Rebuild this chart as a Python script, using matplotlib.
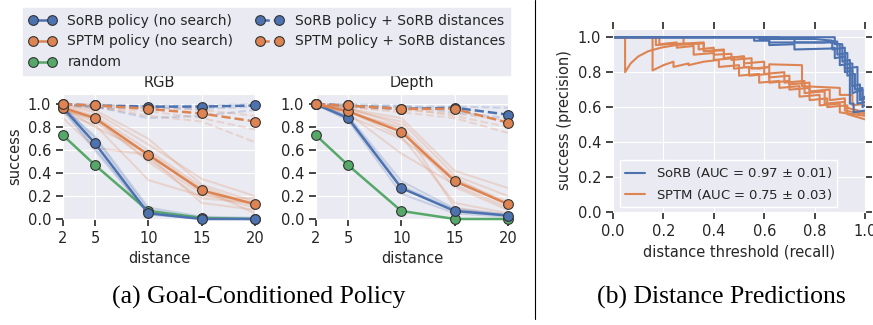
import matplotlib
matplotlib.use("Agg")
import matplotlib.pyplot as plt
import seaborn as sns
from matplotlib.lines import Line2D

sns.set_style("darkgrid")
plt.rcParams['font.family'] = ['DejaVu Sans']

blue = "#4C72B0"
orange = "#DD8452"
green = "#55A868"

distances = [2, 5, 10, 15, 20]

# --- RGB ---
rgb_sorb = [0.97, 0.66, 0.05, 0.00, 0.00]
rgb_sptm = [0.97, 0.88, 0.56, 0.25, 0.13]
rgb_random = [0.73, 0.47, 0.07, 0.01, 0.00]
rgb_sorb_search = [1.00, 0.99, 0.98, 0.98, 0.99]
rgb_sptm_search = [1.00, 0.99, 0.96, 0.92, 0.85]

rgb_sorb_trials = [
    [0.98, 0.70, 0.08, 0.01, 0.00],
    [0.95, 0.60, 0.04, 0.00, 0.00],
    [0.97, 0.72, 0.10, 0.02, 0.01],
    [0.96, 0.62, 0.05, 0.00, 0.00],
]
rgb_sptm_trials = [
    [1.00, 0.95, 0.70, 0.30, 0.15],
    [0.98, 0.90, 0.60, 0.28, 0.12],
    [0.95, 0.85, 0.52, 0.22, 0.10],
    [0.92, 0.82, 0.34, 0.20, 0.18],
    [0.99, 0.93, 0.65, 0.35, 0.20],
    [0.96, 0.87, 0.55, 0.14, 0.08],
    [0.97, 0.80, 0.58, 0.26, 0.05],
    [0.94, 0.88, 0.50, 0.18, 0.14],
    [0.88, 0.62, 0.56, 0.24, 0.12],
]
rgb_sorb_search_trials = [
    [1.00, 0.98, 0.88, 0.90, 0.95],
    [1.00, 0.99, 0.99, 0.99, 1.00],
    [1.00, 0.97, 0.97, 0.96, 0.98],
]
rgb_sptm_search_trials = [
    [1.00, 0.98, 0.90, 0.85, 0.67],
    [1.00, 1.00, 0.98, 0.95, 0.90],
    [0.99, 0.97, 0.94, 0.88, 0.78],
]

# --- Depth ---
depth_sorb = [1.00, 0.88, 0.27, 0.07, 0.03]
depth_sptm = [1.00, 0.94, 0.76, 0.33, 0.13]
depth_random = [0.73, 0.47, 0.07, 0.00, 0.00]
depth_sorb_search = [1.00, 0.99, 0.96, 0.97, 0.91]
depth_sptm_search = [1.00, 0.99, 0.96, 0.96, 0.84]

depth_sorb_trials = [
    [1.00, 0.90, 0.33, 0.09, 0.04],
    [1.00, 0.86, 0.22, 0.05, 0.02],
    [1.00, 0.89, 0.29, 0.08, 0.03],
]
depth_sptm_trials = [
    [1.00, 0.96, 0.88, 0.42, 0.27],
    [1.00, 0.95, 0.85, 0.38, 0.20],
    [0.99, 0.93, 0.80, 0.34, 0.15],
    [1.00, 0.92, 0.57, 0.30, 0.10],
    [0.98, 0.94, 0.72, 0.14, 0.05],
    [1.00, 0.97, 0.82, 0.10, 0.03],
    [0.99, 0.90, 0.70, 0.36, 0.12],
    [1.00, 0.94, 0.78, 0.28, 0.08],
]
depth_sorb_search_trials = [
    [1.00, 0.99, 0.98, 0.98, 0.97],
    [1.00, 1.00, 0.99, 0.93, 0.88],
]
depth_sptm_search_trials = [
    [1.00, 0.98, 0.93, 0.88, 0.75],
    [1.00, 0.99, 0.97, 0.90, 0.80],
    [1.00, 0.97, 0.95, 0.92, 0.86],
]

# --- precision / recall curves ---
sorb_pr = [
    ([0, 0.56, 0.56, 0.62, 0.62, 0.72, 0.72, 0.86, 0.88, 0.88, 0.92, 0.92, 0.95, 0.95, 0.97, 0.97, 1.0],
     [1.0, 1.0, 0.98, 0.98, 0.955, 0.96, 0.93, 0.935, 0.94, 0.88, 0.89, 0.80, 0.81, 0.68, 0.69, 0.62, 0.63]),
    ([0, 0.62, 0.62, 0.84, 0.86, 0.89, 0.89, 0.93, 0.93, 0.96, 0.96, 0.99, 0.99, 1.0],
     [1.0, 1.0, 0.97, 0.97, 0.98, 0.975, 0.90, 0.91, 0.78, 0.79, 0.70, 0.71, 0.64, 0.65]),
    ([0, 0.88, 0.88, 0.91, 0.91, 0.94, 0.94, 0.955, 0.955, 1.0],
     [1.0, 1.0, 0.96, 0.96, 0.86, 0.87, 0.62, 0.62, 0.57, 0.58]),
    ([0, 0.58, 0.58, 0.70, 0.72, 0.72, 0.86, 0.90, 0.90, 0.95, 0.95, 0.98, 0.98, 1.0],
     [1.0, 1.0, 0.99, 0.99, 0.99, 0.97, 0.97, 0.96, 0.84, 0.85, 0.72, 0.73, 0.64, 0.66]),
    ([0, 0.66, 0.66, 0.80, 0.87, 0.87, 0.92, 0.92, 0.97, 0.97, 0.99, 0.99, 1.0],
     [1.0, 1.0, 0.99, 0.99, 0.98, 0.93, 0.94, 0.82, 0.83, 0.69, 0.70, 0.60, 0.61]),
]
sptm_pr = [
    ([0, 0.048, 0.048, 0.07, 0.10, 0.14, 0.19, 0.25, 0.30, 0.34, 0.34, 0.40, 0.40, 0.47, 0.47, 0.55, 0.55,
      0.62, 0.62, 0.70, 0.70, 0.78, 0.78, 0.86, 0.86, 0.92, 0.92, 1.0],
     [1.0, 1.0, 0.80, 0.85, 0.89, 0.92, 0.94, 0.955, 0.96, 0.965, 0.93, 0.94, 0.90, 0.905, 0.87, 0.88, 0.82,
      0.83, 0.77, 0.78, 0.73, 0.74, 0.69, 0.70, 0.64, 0.65, 0.60, 0.57]),
    ([0, 0.157, 0.157, 0.20, 0.24, 0.24, 0.30, 0.30, 0.36, 0.42, 0.42, 0.50, 0.50, 0.58, 0.58, 0.66, 0.66,
      0.74, 0.74, 0.82, 0.82, 0.90, 0.90, 1.0],
     [1.0, 1.0, 0.81, 0.84, 0.86, 0.83, 0.85, 0.84, 0.86, 0.87, 0.83, 0.84, 0.78, 0.79, 0.74, 0.75, 0.71,
      0.72, 0.66, 0.67, 0.61, 0.62, 0.57, 0.55]),
    ([0, 0.17, 0.17, 0.22, 0.30, 0.36, 0.36, 0.44, 0.44, 0.52, 0.52, 0.58, 0.62, 0.62, 0.75, 0.75, 0.90,
      0.90, 0.95, 0.95, 1.0],
     [1.0, 1.0, 0.955, 0.96, 0.965, 0.97, 0.92, 0.93, 0.88, 0.89, 0.83, 0.82, 0.83, 0.845, 0.84, 0.72, 0.71,
      0.67, 0.67, 0.61, 0.62]),
    ([0, 0.184, 0.184, 0.253, 0.253, 0.32, 0.32, 0.40, 0.40, 0.48, 0.48, 0.54, 0.54, 0.62, 0.62, 0.70, 0.70,
      0.78, 0.78, 0.85, 0.85, 0.93, 0.93, 1.0],
     [1.0, 1.0, 0.96, 0.97, 0.94, 0.95, 0.90, 0.91, 0.87, 0.88, 0.82, 0.83, 0.78, 0.79, 0.74, 0.75, 0.70,
      0.71, 0.64, 0.65, 0.60, 0.61, 0.56, 0.53]),
    ([0, 0.28, 0.28, 0.36, 0.36, 0.44, 0.44, 0.52, 0.52, 0.60, 0.60, 0.68, 0.68, 0.76, 0.76, 0.84, 0.84,
      0.92, 0.92, 1.0],
     [1.0, 1.0, 0.96, 0.965, 0.92, 0.925, 0.88, 0.89, 0.85, 0.86, 0.79, 0.80, 0.74, 0.75, 0.68, 0.69, 0.62,
      0.63, 0.58, 0.56]),
]
sorb_label = r"SoRB (AUC = 0.97 $\pm$ 0.01)"
sptm_label = r"SPTM (AUC = 0.75 $\pm$ 0.03)"

W, H = 873, 325
fig = plt.figure(figsize=(W / 100, H / 100), dpi=100)


def box(l, t, r, b):
    return [l / W, 1 - b / H, (r - l) / W, (b - t) / H]


mk = dict(marker="o", markersize=7, markeredgecolor="#333333", markeredgewidth=0.8)


def policy_panel(ax, title, sorb, sptm, rnd, sorb_s, sptm_s, sorb_t, sptm_t, sorb_st, sptm_st):
    for t in sptm_t:
        ax.plot(distances, t, color=orange, alpha=0.22, lw=1.5)
    for t in sorb_t:
        ax.plot(distances, t, color=blue, alpha=0.22, lw=1.5)
    for t in sptm_st:
        ax.plot(distances, t, color=orange, alpha=0.22, lw=1.5, ls="--")
    for t in sorb_st:
        ax.plot(distances, t, color=blue, alpha=0.22, lw=1.5, ls="--")
    ax.plot(distances, rnd, color=green, lw=1.8, **mk, zorder=3)
    ax.plot(distances, sorb, color=blue, lw=1.8, **mk, zorder=4)
    ax.plot(distances, sptm, color=orange, lw=1.8, **mk, zorder=5)
    ax.plot(distances, sorb_s, color=blue, lw=1.8, ls="--", **mk, zorder=4)
    ax.plot(distances, sptm_s, color=orange, lw=1.8, ls="--", **mk, zorder=5)
    ax.set_xlim(2, 20)
    ax.set_ylim(0, 1.09)
    ax.set_xticks(distances)
    ax.set_yticks([0.0, 0.2, 0.4, 0.6, 0.8, 1.0])
    ax.set_title(title, fontsize=10.5, color="#262626", pad=5)
    ax.set_xlabel("distance", fontsize=10.5)
    ax.tick_params(labelsize=10.5, length=5, width=1.2, color="#262626", direction="out",
                   bottom=True, left=True)
    for m in ax.get_lines():
        m.set_clip_on(False)


ax1 = fig.add_axes(box(63, 94, 255, 219))
policy_panel(ax1, "RGB", rgb_sorb, rgb_sptm, rgb_random, rgb_sorb_search, rgb_sptm_search,
             rgb_sorb_trials, rgb_sptm_trials, rgb_sorb_search_trials, rgb_sptm_search_trials)
ax1.set_ylabel("success", fontsize=10.5)

ax2 = fig.add_axes(box(316, 94, 508, 219))
policy_panel(ax2, "Depth", depth_sorb, depth_sptm, depth_random, depth_sorb_search, depth_sptm_search,
             depth_sorb_trials, depth_sptm_trials, depth_sorb_search_trials, depth_sptm_search_trials)

handles = [
    Line2D([], [], color=blue, lw=1.8, **mk),
    Line2D([], [], color=orange, lw=1.8, **mk),
    Line2D([], [], color=green, lw=1.8, **mk),
    Line2D([], [], color=blue, lw=1.8, ls="--", **mk),
    Line2D([], [], color=orange, lw=1.8, ls="--", **mk),
]
labels = ["SoRB policy (no search)", "SPTM policy (no search)", "random",
          "SoRB policy + SoRB distances", "SPTM policy + SoRB distances"]
leg = fig.legend(handles, labels, loc="upper left", bbox_to_anchor=(23 / W, 1 - 8 / H), ncol=2,
                 fontsize=10, handlelength=2.0, numpoints=2, columnspacing=1.6, frameon=True,
                 fancybox=False, facecolor="#EAEAF2", edgecolor="#EAEAF2", framealpha=1,
                 borderpad=0.4, handletextpad=0.8, borderaxespad=0)

ax3 = fig.add_axes(box(613, 29, 865, 212))
for r, p in sptm_pr:
    ax3.plot(r, p, color=orange, lw=1.5)
for r, p in sorb_pr:
    ax3.plot(r, p, color=blue, lw=1.5)
ax3.set_xlim(0, 1)
ax3.set_ylim(0, 1.047)
ax3.set_xticks([0.0, 0.2, 0.4, 0.6, 0.8, 1.0])
ax3.set_yticks([0.0, 0.2, 0.4, 0.6, 0.8, 1.0])
ax3.tick_params(labelsize=10.5, length=5, width=1.2, color="#262626", direction="out",
                bottom=True, left=True, top=True, right=True)
ax3.set_xlabel("distance threshold (recall)", fontsize=10.5)
ax3.set_ylabel("success (precision)", fontsize=10.5)
ax3.legend([Line2D([], [], color=blue, lw=1.5), Line2D([], [], color=orange, lw=1.5)],
           [sorb_label, sptm_label], loc="lower left", bbox_to_anchor=(7 / 252, 5 / 183),
           fontsize=9.5, frameon=True, fancybox=False, facecolor="#EAEAF2", edgecolor="white",
           framealpha=1, handlelength=1.5, borderaxespad=0)

fig.add_artist(Line2D([535 / W, 535 / W], [0.02, 1.0], color="black", lw=0.8))

fig.text(259 / W, 1 - 297 / H, "(a) Goal-Conditioned Policy", family="Liberation Serif",
         fontsize=18.5, ha="center", va="center", color="black")
fig.text(721 / W, 1 - 297 / H, "(b) Distance Predictions", family="Liberation Serif",
         fontsize=18.5, ha="center", va="center", color="black")

fig.savefig("out.png", dpi=100)
